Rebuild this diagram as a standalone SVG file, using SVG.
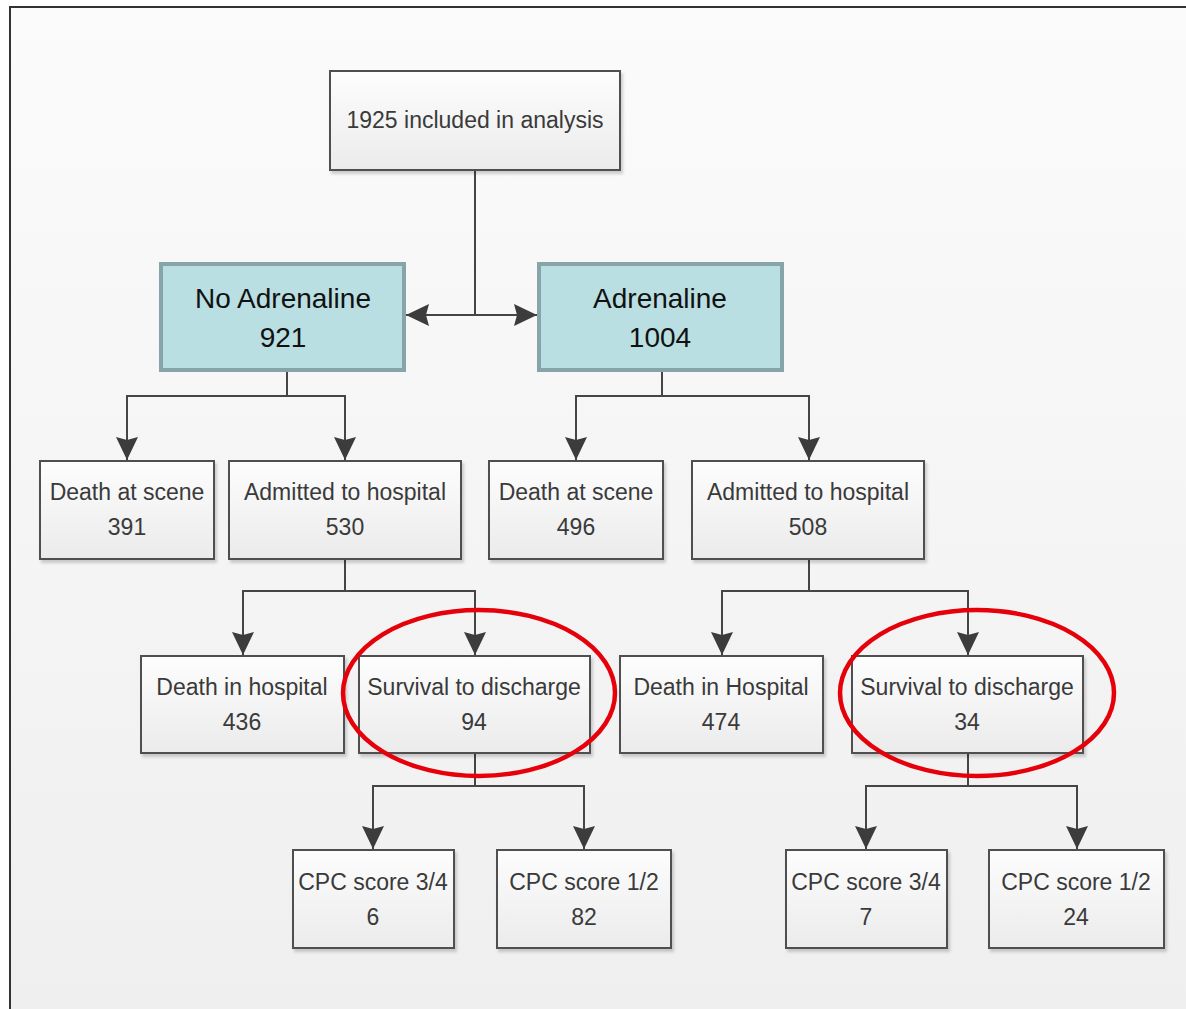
<svg xmlns="http://www.w3.org/2000/svg" width="1186" height="1009" viewBox="0 0 1186 1009">
<defs>
<linearGradient id="bg" x1="0" y1="0" x2="0" y2="1">
<stop offset="0" stop-color="#fbfbfb"/>
<stop offset="1" stop-color="#efefef"/>
</linearGradient>
<linearGradient id="boxfill" x1="0" y1="0" x2="0" y2="1">
<stop offset="0" stop-color="#fdfdfd"/>
<stop offset="1" stop-color="#ebebeb"/>
</linearGradient>
<filter id="sh" x="-10%" y="-10%" width="120%" height="130%">
<feDropShadow dx="2" dy="3" stdDeviation="1.5" flood-color="#000" flood-opacity="0.18"/>
</filter>
<marker id="arr" markerUnits="userSpaceOnUse" markerWidth="26" markerHeight="26" viewBox="-24 -13 26 26" refX="0" refY="0" orient="auto">
<path d="M0,0 L-23,-11 L-20,0 L-23,11 Z" fill="#3c3c3c"/>
</marker>
<style>
.box{fill:url(#boxfill);stroke:#505050;stroke-width:2;filter:url(#sh)}
.grp{fill:#b9dfe2;stroke:#87a5a8;stroke-width:4}
.t{font-family:"Liberation Sans",Arial,sans-serif;font-size:23px;fill:#3a3a3a;text-anchor:middle}
.tb{font-family:"Liberation Sans",Arial,sans-serif;font-size:28px;fill:#111;text-anchor:middle}
.c{fill:none;stroke:#454545;stroke-width:2}
.ring{fill:none;stroke:#e5000a;stroke-width:4.5}
</style>
</defs>
<rect x="0" y="0" width="1186" height="1009" fill="#ffffff"/>
<rect x="10" y="7" width="1176" height="1002" fill="url(#bg)"/>
<path d="M10,1009 L10,7 L1186,7" fill="none" stroke="#333" stroke-width="2"/>

<g id="connectors">
<path class="c" d="M475,170 V315"/>
<path class="c" d="M475,315 H406" marker-end="url(#arr)"/>
<path class="c" d="M475,315 H537" marker-end="url(#arr)"/>
<path class="c" d="M287,371 V396 H127 V460" marker-end="url(#arr)"/>
<path class="c" d="M287,396 H345 V460" marker-end="url(#arr)"/>
<path class="c" d="M662,371 V396 H576 V460" marker-end="url(#arr)"/>
<path class="c" d="M662,396 H809 V460" marker-end="url(#arr)"/>
<path class="c" d="M345,559 V591 H243 V655" marker-end="url(#arr)"/>
<path class="c" d="M345,591 H475 V655" marker-end="url(#arr)"/>
<path class="c" d="M809,559 V591 H722 V655" marker-end="url(#arr)"/>
<path class="c" d="M809,591 H968 V655" marker-end="url(#arr)"/>
<path class="c" d="M475,753 V786 H373 V849" marker-end="url(#arr)"/>
<path class="c" d="M475,786 H584 V849" marker-end="url(#arr)"/>
<path class="c" d="M968,753 V786 H866 V849" marker-end="url(#arr)"/>
<path class="c" d="M968,786 H1077 V849" marker-end="url(#arr)"/>
</g>

<g id="n-total"><rect class="box" x="330" y="71" width="290" height="99"/><text class="t" x="475" y="128">1925 included in analysis</text></g>
<g id="n-noadr"><rect class="grp" x="161" y="264" width="243" height="106"/><text class="tb" x="283" y="308">No Adrenaline</text><text class="tb" x="283" y="347">921</text></g>
<g id="n-adr"><rect class="grp" x="539" y="264" width="243" height="106"/><text class="tb" x="660" y="308">Adrenaline</text><text class="tb" x="660" y="347">1004</text></g>

<g id="n-das1"><rect class="box" x="40" y="461" width="174" height="98"/><text class="t" x="127" y="500">Death at scene</text><text class="t" x="127" y="535">391</text></g>
<g id="n-ath1"><rect class="box" x="229" y="461" width="232" height="98"/><text class="t" x="345" y="500">Admitted to hospital</text><text class="t" x="345" y="535">530</text></g>
<g id="n-das2"><rect class="box" x="489" y="461" width="174" height="98"/><text class="t" x="576" y="500">Death at scene</text><text class="t" x="576" y="535">496</text></g>
<g id="n-ath2"><rect class="box" x="692" y="461" width="232" height="98"/><text class="t" x="808" y="500">Admitted to hospital</text><text class="t" x="808" y="535">508</text></g>

<g id="n-dih1"><rect class="box" x="141" y="656" width="203" height="97"/><text class="t" x="242" y="695">Death in hospital</text><text class="t" x="242" y="730">436</text></g>
<g id="n-std1"><rect class="box" x="359" y="656" width="231" height="97"/><text class="t" x="474" y="695">Survival to discharge</text><text class="t" x="474" y="730">94</text></g>
<g id="n-dih2"><rect class="box" x="620" y="656" width="203" height="97"/><text class="t" x="721" y="695">Death in Hospital</text><text class="t" x="721" y="730">474</text></g>
<g id="n-std2"><rect class="box" x="852" y="656" width="231" height="97"/><text class="t" x="967" y="695">Survival to discharge</text><text class="t" x="967" y="730">34</text></g>

<g id="n-cpc34a"><rect class="box" x="293" y="850" width="161" height="98"/><text class="t" x="373" y="890">CPC score 3/4</text><text class="t" x="373" y="925">6</text></g>
<g id="n-cpc12a"><rect class="box" x="497" y="850" width="174" height="98"/><text class="t" x="584" y="890">CPC score 1/2</text><text class="t" x="584" y="925">82</text></g>
<g id="n-cpc34b"><rect class="box" x="786" y="850" width="161" height="98"/><text class="t" x="866" y="890">CPC score 3/4</text><text class="t" x="866" y="925">7</text></g>
<g id="n-cpc12b"><rect class="box" x="989" y="850" width="175" height="98"/><text class="t" x="1076" y="890">CPC score 1/2</text><text class="t" x="1076" y="925">24</text></g>

<g id="highlights">
<ellipse class="ring" cx="479" cy="693" rx="136" ry="83"/>
<ellipse class="ring" cx="977" cy="693" rx="137" ry="83"/>
</g>
</svg>
